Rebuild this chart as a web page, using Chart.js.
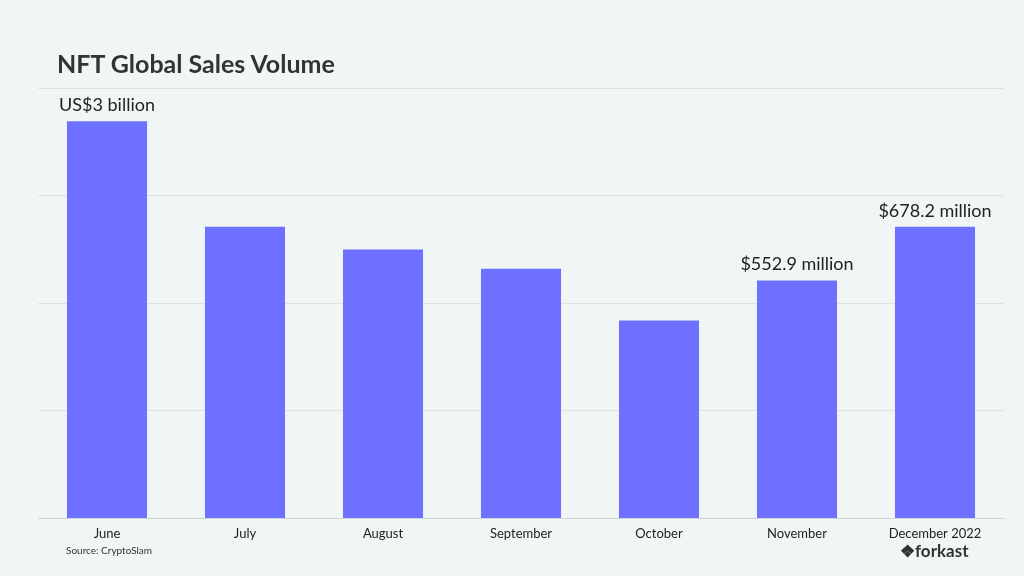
<!DOCTYPE html>
<html><head><meta charset="utf-8">
<script src="https://cdn.jsdelivr.net/npm/chart.js@4/dist/chart.umd.min.js"></script>
<style>
html,body{margin:0;padding:0;background:#f0f6f6;}
#wrap{position:relative;width:1024px;height:576px;}
canvas{position:absolute;left:0;top:0;}
.t{position:absolute;font-family:Lato,sans-serif;color:#333;}
</style></head><body>
<div id="wrap">
<canvas id="c" width="1024" height="576"></canvas>
<div class="t" style="left:57px;top:48px;font-size:25px;font-weight:bold;">NFT Global Sales Volume</div>
<div class="t" style="left:66px;top:544px;font-size:10px;">Source: CryptoSlam</div>
<div class="t" style="left:900px;top:540px;font-size:17px;font-weight:bold;">&#10070;forkast</div>
</div>
<script>
// bar heights as drawn (chart is not to scale), in gridline units
const months = ['June', 'July', 'August', 'September', 'October', 'November', 'December 2022'];
const heights = [3.69, 2.71, 2.50, 2.32, 1.84, 2.21, 2.71];
const labels = ['US$3 billion', '', '', '', '', '$552.9 million', '$678.2 million'];

const barLabels = {
  id: 'barLabels',
  afterDatasetsDraw(ch) {
    const ctx = ch.ctx;
    ctx.save();
    ctx.font = '18px Lato, sans-serif';
    ctx.fillStyle = '#222';
    ctx.textAlign = 'center';
    ctx.textBaseline = 'bottom';
    ch.getDatasetMeta(0).data.forEach((b, i) => {
      if (labels[i]) ctx.fillText(labels[i], b.x, b.y - 7);
    });
    ctx.restore();
  },
};

new Chart(document.getElementById('c'), {
  type: 'bar',
  data: { labels: months, datasets: [{ data: heights, backgroundColor: '#6e71ff', barPercentage: 0.58, categoryPercentage: 1 }] },
  options: {
    responsive: false, animation: false,
    layout: { padding: { left: 38, right: 20, top: 88, bottom: 34 } },
    plugins: { legend: { display: false }, tooltip: { enabled: false } },
    scales: {
      x: { grid: { display: false }, border: { color: '#cfd6d6' },
           ticks: { color: '#222', font: { family: 'Lato', size: 13 }, padding: 0 } },
      y: { min: 0, max: 4, ticks: { display: false, stepSize: 1 },
           grid: { color: '#dde3e3', drawTicks: false }, border: { display: false } },
    },
  },
  plugins: [barLabels],
});
</script>
</body></html>
